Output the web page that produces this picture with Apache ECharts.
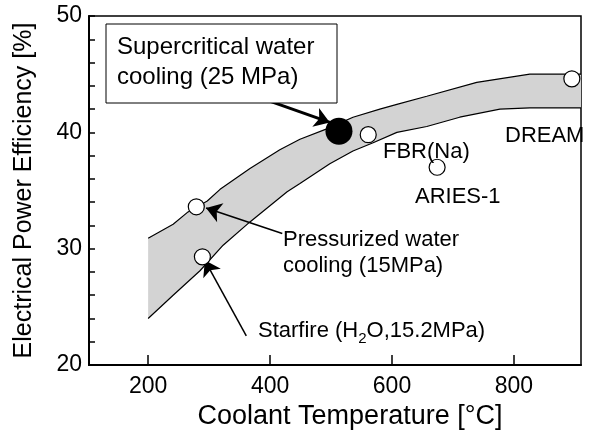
<!DOCTYPE html>
<html>
<head>
<meta charset="utf-8">
<script src="https://cdn.jsdelivr.net/npm/echarts@6/dist/echarts.min.js"></script>
<style>
  html, body { margin: 0; padding: 0; background: #fff; }
  #chart { width: 590px; height: 435px; }
</style>
</head>
<body>
<div id="chart"></div>
<script>
// band edges [temperature, efficiency]
var bandUpper = [[200, 30.9], [241, 32.1], [264, 33.1], [297, 34.1], [318, 35.1], [367, 36.9],
    [416, 38.5], [449, 39.4], [493, 40.3], [536, 41.3], [580, 42.0], [608, 42.4], [657, 43.1],
    [739, 44.3], [826, 45.0], [910, 45.0]];
var bandLower = [[200, 24.0], [241, 26.0], [285, 28.1], [323, 30.3], [367, 32.3], [428, 34.9],
    [449, 35.6], [498, 37.3], [536, 38.4], [569, 39.1], [608, 40.0], [657, 40.5], [711, 41.3],
    [777, 42.0], [826, 42.1], [910, 42.1]];

// reactors: pressurized water, starfire, FBR(Na), ARIES-1, DREAM
var openPoints = [[279, 33.6], [289, 29.3], [561, 39.8], [674, 37.0], [895, 44.6]];
var scwrPoint = [[513, 40.1]];

var xTicks = [200, 400, 600, 800];
var yTicks = [20, 22, 24, 26, 28, 30, 32, 34, 36, 38, 40, 42, 44, 46, 48, 50];
var yLabels = [20, 30, 40, 50];

var FONT = 'Liberation Sans, Arial, sans-serif';

var chart = echarts.init(document.getElementById('chart'));

chart.setOption({
    animation: false,
    textStyle: { fontFamily: FONT, color: '#000' },
    grid: {
        left: 89, right: 9, top: 16, bottom: 68,
        show: true, borderColor: '#000', borderWidth: 1.5
    },
    xAxis: {
        type: 'value',
        min: 103,
        max: 910,
        name: 'Coolant Temperature [°C]',
        nameLocation: 'middle',
        nameGap: 38,
        nameTextStyle: { fontSize: 27, color: '#000', padding: [0, 0, 0, 30] },
        axisLine: { lineStyle: { color: '#000', width: 2 } },
        axisTick: { inside: true, length: 10, customValues: xTicks, lineStyle: { color: '#000', width: 1.5 } },
        axisLabel: { customValues: xTicks, fontSize: 23, color: '#000', margin: 10 },
        splitLine: { show: false }
    },
    yAxis: {
        type: 'value',
        min: 20,
        max: 50,
        name: 'Electrical Power Efficiency [%]',
        nameLocation: 'middle',
        nameGap: 52,
        nameTextStyle: { fontSize: 25, color: '#000' },
        axisLine: { lineStyle: { color: '#000', width: 2 } },
        axisTick: { inside: true, length: 6, customValues: yTicks, lineStyle: { color: '#000', width: 1.5 } },
        axisLabel: { customValues: yLabels, fontSize: 23, color: '#000', margin: 7 },
        splitLine: { show: false }
    },
    series: [
        {
            type: 'custom',
            name: 'band',
            data: [bandUpper[0]],
            z: 1,
            renderItem: function (params, api) {
                if (params.dataIndex !== 0) return;
                var pts = [];
                bandUpper.forEach(function (p) { pts.push(api.coord(p)); });
                for (var i = bandLower.length - 1; i >= 0; i--) {
                    pts.push(api.coord(bandLower[i]));
                }
                return {
                    type: 'polygon',
                    shape: { points: pts },
                    style: { fill: '#d3d3d3', stroke: null }
                };
            }
        },
        {
            type: 'line',
            data: bandUpper,
            showSymbol: false,
            z: 2,
            lineStyle: { color: '#000', width: 1.2 }
        },
        {
            type: 'line',
            data: bandLower,
            showSymbol: false,
            z: 2,
            lineStyle: { color: '#000', width: 1.2 }
        },
        {
            type: 'scatter',
            data: openPoints,
            symbolSize: 16,
            clip: false,
            z: 5,
            itemStyle: { color: '#fff', borderColor: '#000', borderWidth: 1.2, opacity: 1 },
            markLine: {
                silent: true,
                symbol: ['none', 'arrow'],
                symbolSize: 15,
                label: { show: false },
                lineStyle: { color: '#000', width: 1.5, type: 'solid' },
                data: [
                    [{ coord: [420, 31.3] }, { coord: [295, 33.5] }],
                    [{ coord: [361, 22.5] }, { coord: [293, 29.0] }],
                    [{ coord: [339, 43.8], lineStyle: { width: 3 } }, { coord: [498, 40.85] }]
                ]
            }
        },
        {
            type: 'scatter',
            data: scwrPoint,
            symbolSize: 27,
            z: 5,
            itemStyle: { color: '#000', opacity: 1 }
        }
    ],
    graphic: [
        {
            type: 'rect',
            shape: { x: 106, y: 24, width: 231, height: 79 },
            style: { fill: '#fff', stroke: '#000', lineWidth: 1 },
            z: 10
        },
        {
            type: 'text', left: 117, top: 32, z: 11,
            style: { text: 'Supercritical water\ncooling (25 MPa)', font: '24px ' + FONT, fill: '#000', lineHeight: 30 }
        },
        {
            type: 'text', left: 283, top: 227, z: 11,
            style: { text: 'Pressurized water\ncooling (15MPa)', font: '22px ' + FONT, fill: '#000', lineHeight: 26 }
        },
        {
            type: 'text', left: 258, top: 320, z: 11,
            style: {
                text: '{a|Starfire (H}{s|2}{a|O,15.2MPa)}',
                fill: '#000',
                rich: {
                    a: { fontSize: 22, fontFamily: FONT, lineHeight: 30, verticalAlign: 'middle' },
                    s: { fontSize: 15, fontFamily: FONT, lineHeight: 30, verticalAlign: 'bottom' }
                }
            }
        },
        {
            type: 'text', left: 383, top: 141, z: 11,
            style: { text: 'FBR(Na)', font: '22px ' + FONT, fill: '#000' }
        },
        {
            type: 'text', left: 415, top: 186, z: 11,
            style: { text: 'ARIES-1', font: '22px ' + FONT, fill: '#000' }
        },
        {
            type: 'text', left: 505, top: 125, z: 11,
            style: { text: 'DREAM', font: '22px ' + FONT, fill: '#000' }
        }
    ]
});
</script>
</body>
</html>
